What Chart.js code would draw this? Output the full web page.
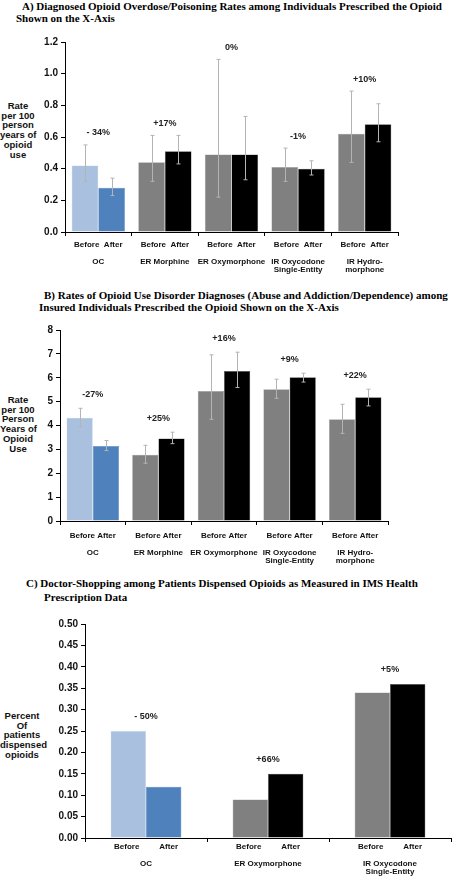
<!DOCTYPE html>
<html lang="en">
    <head>
        <meta charset="UTF-8" />
        <title>Opioid Before/After</title>
        <script src="https://cdn.jsdelivr.net/npm/chart.js"></script>
    </head>
    <body>
        <div id="page">
            <div class="title" style="left: 22px; top: 0px">A) Diagnosed Opioid Overdose/Poisoning Rates among Individuals Prescribed the Opioid</div>
            <div class="title" style="left: 16px; top: 12px">Shown on the X-Axis</div>
            <div class="ylab" style="left: 0px; width: 36px; top: 101px">Rate<br />per 100<br />person<br />years of<br />opioid<br />use</div>
            <canvas id="chartA" width="452" height="250" style="top: 30px"></canvas>

            <div class="title" style="left: 44px; top: 289px">B) Rates of Opioid Use Disorder Diagnoses (Abuse and Addiction/Dependence) among</div>
            <div class="title" style="left: 39px; top: 301px">Insured Individuals Prescribed the Opioid Shown on the X-Axis</div>
            <div class="ylab" style="left: 0px; width: 36px; top: 395px">Rate<br />per 100<br />Person<br />Years of<br />Opioid<br />Use</div>
            <canvas id="chartB" width="452" height="255" style="top: 318px"></canvas>

            <div class="title" style="left: 26px; top: 577px">C) Doctor-Shopping among Patients Dispensed Opioids as Measured in IMS Health</div>
            <div class="title" style="left: 44px; top: 591px">Prescription Data</div>
            <div class="ylab" style="left: 0px; width: 44px; top: 711px">Percent<br />Of<br />patients<br />dispensed<br />opioids</div>
            <canvas id="chartC" width="452" height="265" style="top: 612px"></canvas>
        </div>

        <style>
            body { margin: 0; background: #fff; }
            #page { position: relative; width: 452px; height: 877px; overflow: hidden; }
            #page canvas { position: absolute; left: 0; }
            .title {
                position: absolute;
                font-family: 'Liberation Serif', 'Times New Roman', serif;
                font-weight: bold;
                font-size: 11px;
                line-height: 12px;
                white-space: nowrap;
                color: #000;
            }
            .ylab {
                position: absolute;
                font-family: 'Liberation Sans', Arial, sans-serif;
                font-weight: bold;
                font-size: 9.5px;
                line-height: 9.7px;
                text-align: center;
                white-space: nowrap;
                color: #111;
            }
        </style>

        <script>
            const groupsAB = ['OC', 'ER Morphine', 'ER Oxymorphone', ['IR Oxycodone', 'Single-Entity'], ['IR Hydro-', 'morphone']];
            const groupsC = ['OC', 'ER Oxymorphone', ['IR Oxycodone', 'Single-Entity']];

            // A) overdose / poisoning rate per 100 person-years
            const overdoseBefore = [0.42, 0.44, 0.49, 0.41, 0.62];
            const overdoseAfter = [0.28, 0.51, 0.49, 0.40, 0.68];
            const overdoseBeforeLow = [0.32, 0.32, 0.22, 0.32, 0.44];
            const overdoseBeforeHigh = [0.55, 0.61, 1.09, 0.53, 0.89];
            const overdoseAfterLow = [0.23, 0.43, 0.33, 0.36, 0.57];
            const overdoseAfterHigh = [0.34, 0.61, 0.73, 0.45, 0.81];
            const overdoseChange = ['- 34%', '+17%', '0%', '-1%', '+10%'];

            // B) opioid use disorder rate per 100 person-years
            const oudBefore = [4.32, 2.77, 5.45, 5.52, 4.26];
            const oudAfter = [3.14, 3.46, 6.28, 6.02, 5.18];
            const oudBeforeLow = [3.95, 2.42, 4.26, 5.14, 3.67];
            const oudBeforeHigh = [4.72, 3.17, 6.96, 5.94, 4.89];
            const oudAfterLow = [2.95, 3.24, 5.59, 5.82, 4.82];
            const oudAfterHigh = [3.37, 3.72, 7.07, 6.19, 5.52];
            const oudChange = ['-27%', '+25%', '+16%', '+9%', '+22%'];

            // C) doctor-shopping, percent of patients
            const shopBefore = [0.25, 0.09, 0.34];
            const shopAfter = [0.12, 0.15, 0.36];
            const shopChange = ['- 50%', '+66%', '+5%'];

            const SANS = "'Liberation Sans', Arial, sans-serif";
            const LIGHT_BLUE = '#a9c1df';
            const BLUE = '#4f81bd';
            const GRAY = '#808080';
            const BLACK = '#000000';

            function makeLabels(groups, pairText) {
                return groups.map((g) => [pairText, ''].concat(Array.isArray(g) ? g : [g]));
            }

            function barColors(n, first, rest) {
                return Array.from({ length: n }, (_, i) => (i === 0 ? first : rest));
            }

            // error bars and percent-change labels, drawn through the chart scales
            const annotate = {
                id: 'annotate',
                afterDatasetsDraw(chart, args, opts) {
                    const ctx = chart.ctx;
                    const y = chart.scales.y;
                    const x = chart.scales.x;
                    const tops = [];
                    ctx.save();
                    ctx.strokeStyle = '#b4b4b4';
                    ctx.lineWidth = 1;
                    chart.data.datasets.forEach((ds, di) => {
                        const meta = chart.getDatasetMeta(di);
                        meta.data.forEach((bar, i) => {
                            let top = bar.y;
                            if (ds.low && ds.high) {
                                const yl = y.getPixelForValue(ds.low[i]);
                                const yh = y.getPixelForValue(ds.high[i]);
                                const bx = Math.round(bar.x) + 0.5;
                                ctx.beginPath();
                                ctx.moveTo(bx, yl);
                                ctx.lineTo(bx, yh);
                                ctx.moveTo(bx - 2, yl);
                                ctx.lineTo(bx + 2, yl);
                                ctx.moveTo(bx - 2, yh);
                                ctx.lineTo(bx + 2, yh);
                                ctx.stroke();
                                top = Math.min(top, yh);
                            }
                            tops[i] = tops[i] === undefined ? top : Math.min(tops[i], top);
                        });
                    });
                    ctx.fillStyle = '#222';
                    ctx.font = 'bold 9px ' + SANS;
                    ctx.textAlign = 'center';
                    ctx.textBaseline = 'middle';
                    opts.labels.forEach((txt, i) => {
                        ctx.fillText(txt, x.getPixelForValue(i), tops[i] - opts.gap);
                    });
                    ctx.restore();
                },
            };

            function makeChart(id, cfg) {
                const ctx = document.getElementById(id).getContext('2d');
                const n = cfg.before.length;
                return new Chart(ctx, {
                    type: 'bar',
                    data: {
                        labels: makeLabels(cfg.groups, cfg.pairText),
                        datasets: [
                            {
                                label: 'Before',
                                data: cfg.before,
                                low: cfg.beforeLow,
                                high: cfg.beforeHigh,
                                backgroundColor: barColors(n, LIGHT_BLUE, GRAY),
                                borderColor: barColors(n, '#c8d6ea', '#a0a0a0'),
                                borderWidth: 0.5,
                            },
                            {
                                label: 'After',
                                data: cfg.after,
                                low: cfg.afterLow,
                                high: cfg.afterHigh,
                                backgroundColor: barColors(n, BLUE, BLACK),
                                borderColor: barColors(n, BLUE, '#606060'),
                                borderWidth: 0.5,
                            },
                        ],
                    },
                    options: {
                        responsive: false,
                        animation: false,
                        layout: { padding: cfg.padding },
                        datasets: { bar: { barPercentage: 1, categoryPercentage: cfg.catPct } },
                        scales: {
                            x: {
                                grid: { drawOnChartArea: false, offset: true, tickLength: 4, color: '#000' },
                                border: { color: '#000', width: 1 },
                                ticks: {
                                    color: '#111',
                                    font: { family: SANS, weight: 'bold', size: 8, lineHeight: 1.08 },
                                    padding: cfg.xPad,
                                    maxRotation: 0,
                                    autoSkip: false,
                                },
                                afterFit: (s) => {
                                    s.height = cfg.xHeight;
                                },
                            },
                            y: {
                                min: 0,
                                max: cfg.max,
                                grid: { drawOnChartArea: false, tickLength: 4, color: '#000' },
                                border: { color: '#000', width: 1 },
                                ticks: {
                                    stepSize: cfg.step,
                                    color: '#111',
                                    font: { family: SANS, weight: 'bold', size: 10 },
                                    padding: 3,
                                    callback: (v) => v.toFixed(cfg.decimals),
                                },
                                afterFit: (s) => {
                                    s.width = cfg.yWidth;
                                },
                            },
                        },
                        plugins: {
                            legend: { display: false },
                            tooltip: { enabled: false },
                            annotate: { labels: cfg.change, gap: cfg.gap },
                        },
                    },
                    plugins: [annotate],
                });
            }

            makeChart('chartA', {
                groups: groupsAB,
                pairText: 'Before  After',
                before: overdoseBefore,
                after: overdoseAfter,
                beforeLow: overdoseBeforeLow,
                beforeHigh: overdoseBeforeHigh,
                afterLow: overdoseAfterLow,
                afterHigh: overdoseAfterHigh,
                change: overdoseChange,
                max: 1.2,
                step: 0.2,
                decimals: 1,
                yWidth: 65,
                xHeight: 48,
                xPad: 4,
                padding: { top: 12, right: 54, left: 0, bottom: 0 },
                catPct: 0.8,
                gap: 12,
            });

            makeChart('chartB', {
                groups: groupsAB,
                pairText: 'Before After',
                before: oudBefore,
                after: oudAfter,
                beforeLow: oudBeforeLow,
                beforeHigh: oudBeforeHigh,
                afterLow: oudAfterLow,
                afterHigh: oudAfterHigh,
                change: oudChange,
                max: 8,
                step: 1,
                decimals: 0,
                yWidth: 60,
                xHeight: 52,
                xPad: 6,
                padding: { top: 12, right: 64, left: 0, bottom: 0 },
                catPct: 0.8,
                gap: 14,
            });

            makeChart('chartC', {
                groups: groupsC,
                pairText: 'Before         After',
                before: shopBefore,
                after: shopAfter,
                change: shopChange,
                max: 0.5,
                step: 0.05,
                decimals: 2,
                yWidth: 85,
                xHeight: 39,
                xPad: 0,
                padding: { top: 12, right: 1, left: 0, bottom: 0 },
                catPct: 0.58,
                gap: 14,
            });
        </script>
    </body>
</html>
